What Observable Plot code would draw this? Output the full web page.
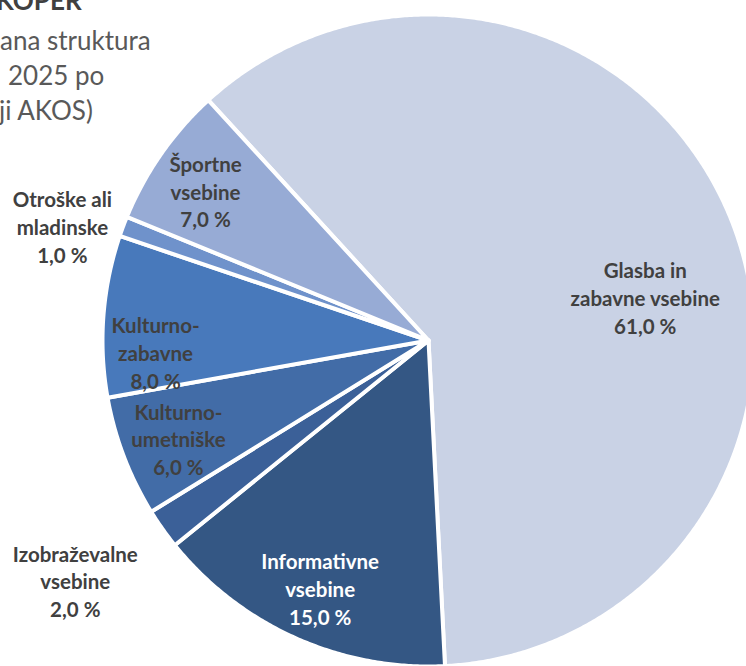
<!DOCTYPE html>
<html>
<head>
<meta charset="utf-8">
<script src="https://cdn.jsdelivr.net/npm/d3@7"></script>
<script src="https://cdn.jsdelivr.net/npm/@observablehq/plot@0.6"></script>
<style>
  html, body { margin: 0; padding: 0; background: #fff; overflow: hidden; }
  #wrap { position: relative; width: 746px; height: 666px; overflow: hidden; }
  #chart svg { display: block; overflow: hidden; }
  .t { position: absolute; font-family: Lato, "Open Sans", sans-serif; color: #595959; font-size: 26px; white-space: nowrap; line-height: 1; }
  .tb { font-weight: 700; color: #404040; }
</style>
</head>
<body>
<div id="wrap">
  <div id="chart"></div>
  <div class="t tb" id="t0" style="left:-4px; top:-13px;">KOPER</div>
  <div class="t" id="t1" style="left:0px; top:27px;">ana struktura</div>
  <div class="t" id="t2" style="left:8px; top:62px;">2025 po</div>
  <div class="t" id="t3" style="left:-1px; top:97px;">ji AKOS)</div>
</div>
<script>
// ---- data ----
const categories = [
  "Glasba in zabavne vsebine",
  "Informativne vsebine",
  "Izobraževalne vsebine",
  "Kulturno-umetniške",
  "Kulturno-zabavne",
  "Otroške ali mladinske",
  "Športne vsebine"
];
const shares = [61, 15, 2, 6, 8, 1, 7];
const labelLines = [
  ["Glasba in", "zabavne vsebine"],
  ["Informativne", "vsebine"],
  ["Izobraževalne", "vsebine"],
  ["Kulturno-", "umetniške"],
  ["Kulturno-", "zabavne"],
  ["Otroške ali", "mladinske"],
  ["Športne", "vsebine"]
];

// ---- styling / layout ----
const colors = ["#c9d2e5", "#345784", "#3b6098", "#426ca7", "#4879bb", "#6f92cb", "#97abd5"];
const labelColors = ["#404040", "#ffffff", "#404040", "#404040", "#404040", "#404040", "#404040"];
const labelRadius = [0.678, 0.83, 1.31, 0.824, 0.838, 1.177, 0.824];
const labelAngleShift = [11.4, -0.5, 1.1, -0.5, -6.8, -3.1, -1.0];
const firstSliceAngle = 317.5; // degrees clockwise from north
const W = 746, H = 666, cx = 428, cy = 340, R = 326;

const rad = Math.PI / 180;
const pie = d3.pie().sort(null)
  .startAngle(firstSliceAngle * rad)
  .endAngle(firstSliceAngle * rad + 2 * Math.PI)(shares);

// polygon outline for each slice (in unit-radius coordinates)
const outline = [];
pie.forEach((p, i) => {
  const cat = categories[i];
  outline.push({cat, x: 0, y: 0});
  const n = Math.max(4, Math.ceil((p.endAngle - p.startAngle) / (0.4 * rad)));
  for (let k = 0; k <= n; k++) {
    const a = p.startAngle + (p.endAngle - p.startAngle) * k / n;
    outline.push({cat, x: Math.sin(a), y: Math.cos(a)});
  }
  outline.push({cat, x: 0, y: 0});
});

const fmt = v => v.toFixed(1).replace(".", ",") + " %";
const labels = pie.map((p, i) => {
  const a = (p.startAngle + p.endAngle) / 2 + labelAngleShift[i] * rad;
  return {
    cat: categories[i],
    x: labelRadius[i] * Math.sin(a),
    y: labelRadius[i] * Math.cos(a),
    text: labelLines[i].join("\n") + "\n" + fmt(shares[i]),
    color: labelColors[i]
  };
});

const chart = Plot.plot({
  width: W,
  height: H,
  margin: 0,
  style: {background: "#ffffff", overflow: "hidden"},
  x: {domain: [-cx / R, (W - cx) / R], range: [0, W], axis: null},
  y: {domain: [-(H - cy) / R, cy / R], range: [H, 0], axis: null},
  color: {domain: categories, range: colors},
  marks: [
    Plot.line(outline, {
      x: "x", y: "y", z: "cat", fill: "cat",
      stroke: "#ffffff", strokeWidth: 4, strokeLinejoin: "round", curve: "linear"
    }),
    Plot.text(labels, {
      x: "x", y: "y", text: "text", fill: "color",
      fontFamily: "Lato, 'Open Sans', sans-serif", fontWeight: 700, fontSize: 20.5,
      lineHeight: 1.36, textAnchor: "middle"
    })
  ]
});
document.getElementById("chart").appendChild(chart);
</script>
</body>
</html>
